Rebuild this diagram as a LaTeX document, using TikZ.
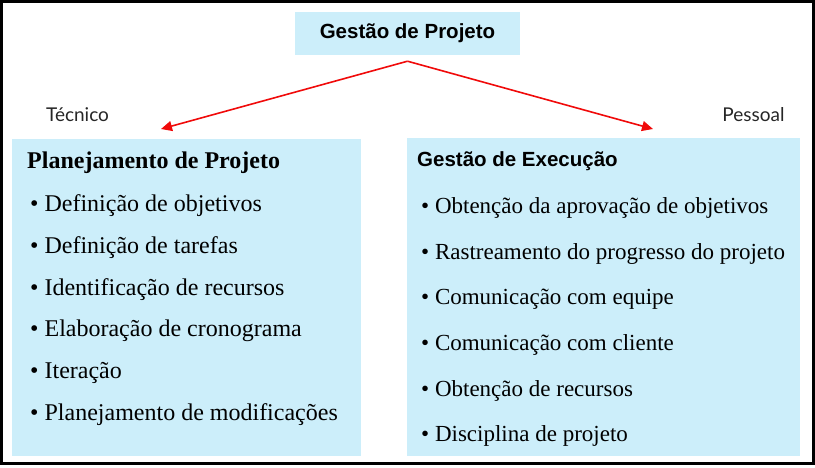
\documentclass[tikz,border=0pt]{standalone}
\usepackage{fontspec}
\setmainfont{Liberation Serif}
\setsansfont{Liberation Sans}
\newfontfamily\thinfont{Lato}
\usetikzlibrary{positioning,arrows.meta}

\definecolor{panelblue}{RGB}{204,238,250}
\definecolor{flowred}{RGB}{240,10,10}

\tikzset{
  panel/.style={fill=panelblue, inner sep=0pt},
  head/.style={font=\sffamily\bfseries\fontsize{20.5}{24}\selectfont},
  plantitle/.style={font=\bfseries\fontsize{24}{28}\selectfont, anchor=base west, inner sep=0pt},
  planitem/.style={font=\fontsize{24}{28}\selectfont, anchor=base west, inner sep=0pt},
  execitem/.style={font=\fontsize{23}{27}\selectfont, anchor=base west, inner sep=0pt},
  side/.style={font=\thinfont\fontsize{19}{22}\selectfont, text=black!85},
  flow/.style={draw=flowred, line width=1.6pt, -{Triangle[length=11pt,width=10pt]}},
}

\begin{document}
\begin{tikzpicture}[x=1pt,y=-1pt]
\useasboundingbox (0,0) rectangle (815,467);
\draw[line width=2.6pt] (1.5,1.2) rectangle (813.5,463.5);

% Define nodes
\path (407.5,33.5)
node[panel, minimum width=225pt, minimum height=43pt, head] (top) {Gestão de Projeto}
(top.south) +(0,6) coordinate (fork)
(12,139) node[panel, anchor=north west, minimum width=349pt, minimum height=317pt] (plan) {}
(407,138) node[panel, anchor=north west, minimum width=393pt, minimum height=318pt] (exec) {}
(plan.north west) +(149,-10) coordinate (plan-in)
(exec.north west) +(246,-9) coordinate (exec-in)
(77.5,115) node[side] (tec) {Técnico}
(753.5,115) node[side] (pes) {Pessoal}
;

% Planejamento
\path (plan.north west)
+(15,29) node[plantitle] (plan-t) {Planejamento de Projeto}
+(18,72) node[planitem] (plan-1) {\textbullet{} Definição de objetivos}
+(18,114) node[planitem] (plan-2) {\textbullet{} Definição de tarefas}
+(18,156) node[planitem] (plan-3) {\textbullet{} Identificação de recursos}
+(18,197) node[planitem] (plan-4) {\textbullet{} Elaboração de cronograma}
+(18,239) node[planitem] (plan-5) {\textbullet{} Iteração}
+(18,281) node[planitem] (plan-6) {\textbullet{} Planejamento de modificações}
;

% Execucao
\path (exec.north west)
+(10,28) node[plantitle, head] (exec-t) {Gestão de Execução}
+(14,75) node[execitem] (exec-1) {\textbullet{} Obtenção da aprovação de objetivos}
+(14,121) node[execitem] (exec-2) {\textbullet{} Rastreamento do progresso do projeto}
+(14,166) node[execitem] (exec-3) {\textbullet{} Comunicação com equipe}
+(14,212) node[execitem] (exec-4) {\textbullet{} Comunicação com cliente}
+(14,258) node[execitem] (exec-5) {\textbullet{} Obtenção de recursos}
+(14,303) node[execitem] (exec-6) {\textbullet{} Disciplina de projeto}
;

\draw[flow] (fork) -- (plan-in);
\draw[flow] (fork) -- (exec-in);

\end{tikzpicture}
\end{document}
